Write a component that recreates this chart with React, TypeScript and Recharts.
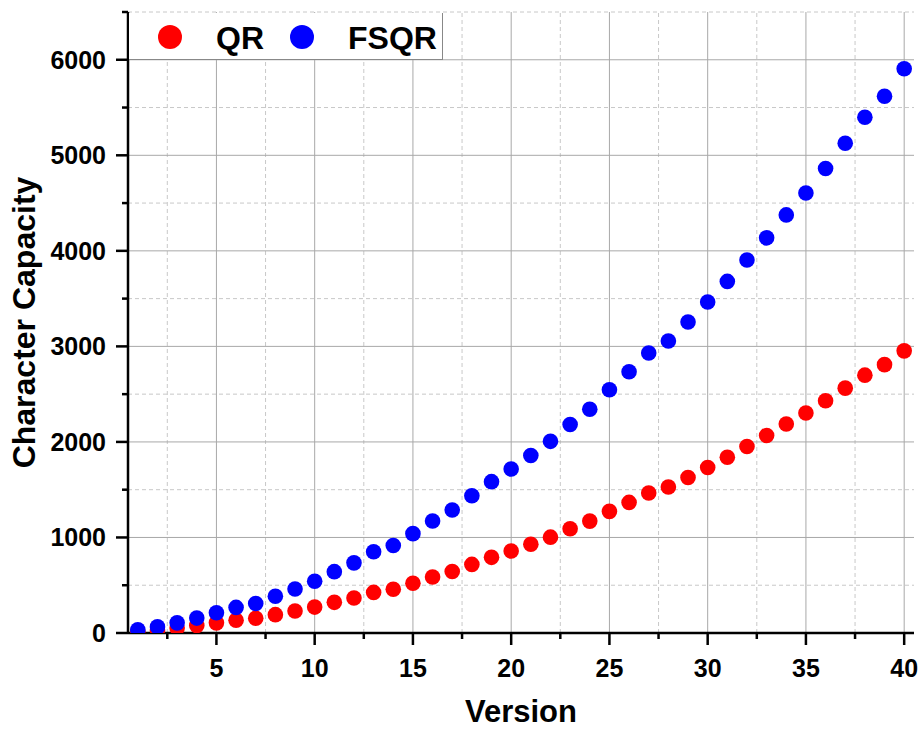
import React from "react";
import {
  ScatterChart,
  Scatter,
  XAxis,
  YAxis,
  ReferenceLine,
  Legend,
} from "recharts";

const versions = [
  1, 2, 3, 4, 5, 6, 7, 8, 9, 10, 11, 12, 13, 14, 15, 16, 17, 18, 19, 20, 21,
  22, 23, 24, 25, 26, 27, 28, 29, 30, 31, 32, 33, 34, 35, 36, 37, 38, 39, 40,
];

const qrCapacity = [
  17, 32, 53, 78, 106, 134, 154, 192, 230, 271, 321, 367, 425, 458, 520, 586,
  644, 718, 792, 858, 929, 1003, 1091, 1171, 1273, 1367, 1465, 1528, 1628, 1732,
  1840, 1952, 2068, 2188, 2303, 2431, 2563, 2699, 2809, 2953,
];

const fsqrCapacity = [
  34, 64, 106, 156, 212, 268, 308, 384, 460, 542, 642, 734, 850, 916, 1040,
  1172, 1288, 1436, 1584, 1716, 1858, 2006, 2182, 2342, 2546, 2734, 2930, 3056,
  3256, 3464, 3680, 3904, 4136, 4376, 4606, 4862, 5126, 5398, 5618, 5906,
];

const xMajor = [5, 10, 15, 20, 25, 30, 35, 40];
const xMinor = [2.5, 7.5, 12.5, 17.5, 22.5, 27.5, 32.5, 37.5];
const yMajor = [0, 1000, 2000, 3000, 4000, 5000, 6000];
const yMinor = [500, 1500, 2500, 3500, 4500, 5500, 6500];

const FONT = "'Liberation Sans', Arial, sans-serif";

const qrData = versions.map((v, i) => ({ version: v, value: qrCapacity[i] }));
const fsqrData = versions.map((v, i) => ({ version: v, value: fsqrCapacity[i] }));

const XTick = (props: any) => {
  const { x, y, payload } = props;
  const major = xMajor.includes(payload.value);
  return (
    <g>
      <line x1={x} x2={x} y1={y} y2={y + (major ? 12 : 6)} stroke="#000" strokeWidth={2.5} />
      {major && (
        <text x={x} y={y + 44} textAnchor="middle" fontFamily={FONT} fontWeight="bold" fontSize={25} fill="#000">
          {payload.value}
        </text>
      )}
    </g>
  );
};

const YTick = (props: any) => {
  const { x, y, payload } = props;
  const major = yMajor.includes(payload.value);
  return (
    <g>
      <line x1={x - (major ? 12 : 6)} x2={x} y1={y} y2={y} stroke="#000" strokeWidth={2.5} />
      {major && (
        <text x={x - 22} y={y + 9} textAnchor="end" fontFamily={FONT} fontWeight="bold" fontSize={25} fill="#000">
          {payload.value}
        </text>
      )}
    </g>
  );
};

const LegendBox = () => (
  <div
    style={{
      width: 313,
      height: 46,
      background: "#fff",
      borderRight: "1px solid #888",
      borderBottom: "1px solid #888",
      position: "relative",
    }}
  >
    <svg width={313} height={46} style={{ position: "absolute", left: 0, top: 0 }}>
      <circle cx={41} cy={24} r={12} fill="#ff0000" />
      <text x={87} y={36} fontFamily={FONT} fontWeight="bold" fontSize={32}>QR</text>
      <circle cx={173} cy={24} r={12} fill="#0000ff" />
      <text x={219} y={36} fontFamily={FONT} fontWeight="bold" fontSize={32}>FSQR</text>
    </svg>
  </div>
);

export default function App() {
  return (
    <div style={{ position: "absolute", left: 0, top: 0, width: 920, height: 730, background: "#fff", overflow: "hidden" }}>
      <ScatterChart
        width={920}
        height={730}
        margin={{ top: 12, right: 6, left: 0, bottom: 0 }}
      >
        <XAxis
          type="number"
          dataKey="version"
          domain={[0.5, 40.5]}
          ticks={[...xMinor, ...xMajor].sort((a, b) => a - b)}
          interval={0}
          height={97}
          tickSize={0}
          tickMargin={0}
          tickLine={false}
          tick={<XTick />}
          axisLine={{ stroke: "#000", strokeWidth: 2.5 }}
          allowDataOverflow
          label={{
            content: (p: any) => {
              const vb = p.viewBox;
              return (
                <text x={vb.x + vb.width / 2} y={722} textAnchor="middle" fontFamily={FONT} fontWeight="bold" fontSize={31} fill="#000">
                  Version
                </text>
              );
            },
          }}
        />
        <XAxis
          xAxisId="top"
          orientation="top"
          type="number"
          domain={[0.5, 40.5]}
          height={0}
          tick={false}
          tickLine={false}
          axisLine={{ stroke: "#000", strokeWidth: 2.5 }}
        />
        <YAxis
          type="number"
          dataKey="value"
          domain={[0, 6500]}
          ticks={[...yMajor, ...yMinor].sort((a, b) => a - b)}
          interval={0}
          width={128}
          tickSize={0}
          tickMargin={0}
          tickLine={false}
          tick={<YTick />}
          axisLine={{ stroke: "#000", strokeWidth: 2.5 }}
          allowDataOverflow
          label={{
            content: (p: any) => {
              const vb = p.viewBox;
              const cy = vb.y + vb.height / 2;
              return (
                <text x={35} y={cy} transform={`rotate(-90, 35, ${cy})`} textAnchor="middle" fontFamily={FONT} fontWeight="bold" fontSize={32} fill="#000">
                  Character Capacity
                </text>
              );
            },
          }}
        />
        <YAxis
          yAxisId="right"
          orientation="right"
          type="number"
          domain={[0, 6500]}
          width={0}
          tick={false}
          tickLine={false}
          axisLine={{ stroke: "#000", strokeWidth: 2.5 }}
        />
        {xMinor.map((v) => (
          <ReferenceLine key={`xm${v}`} x={v} stroke="#c8c8c8" strokeDasharray="4 3" strokeWidth={1} />
        ))}
        {yMinor.map((v) => (
          <ReferenceLine key={`ym${v}`} y={v} stroke="#c8c8c8" strokeDasharray="4 3" strokeWidth={1} />
        ))}
        {xMajor.map((v) => (
          <ReferenceLine key={`xM${v}`} x={v} stroke="#a8a8a8" strokeWidth={1} />
        ))}
        {yMajor.slice(1).map((v) => (
          <ReferenceLine key={`yM${v}`} y={v} stroke="#a8a8a8" strokeWidth={1} />
        ))}
        <Legend
          layout="horizontal"
          verticalAlign="middle"
          align="center"
          wrapperStyle={{ top: 13, left: 129, width: 313, height: 46 }}
          content={() => <LegendBox />}
        />
        <Scatter
          name="QR"
          data={qrData}
          fill="#ff0000"
          isAnimationActive={false}
          shape={(p: any) => <circle cx={p.cx} cy={p.cy} r={7.8} fill="#ff0000" />}
        />
        <Scatter
          name="FSQR"
          data={fsqrData}
          fill="#0000ff"
          isAnimationActive={false}
          shape={(p: any) => <circle cx={p.cx} cy={p.cy} r={7.8} fill="#0000ff" />}
        />
      </ScatterChart>
    </div>
  );
}
